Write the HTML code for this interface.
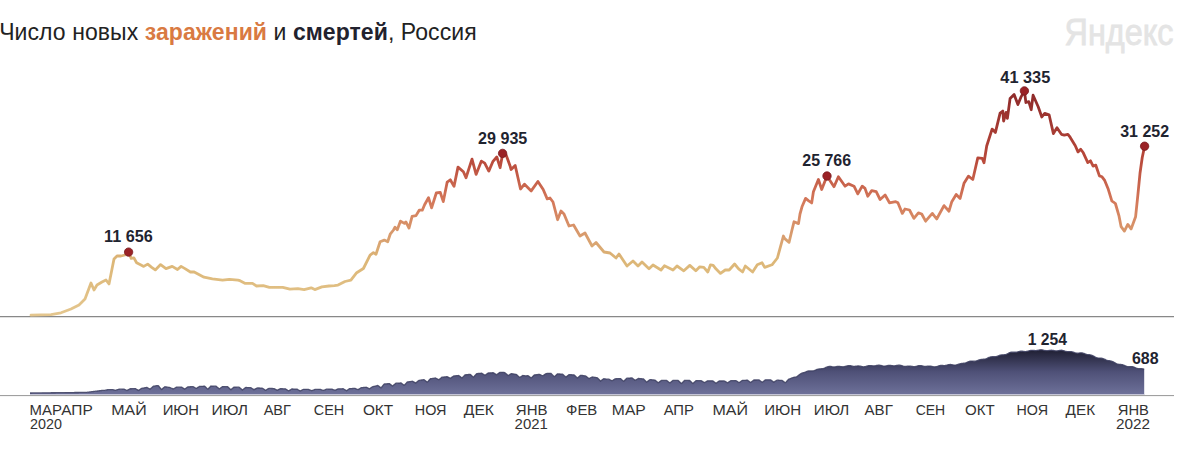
<!DOCTYPE html>
<html><head><meta charset="utf-8"><style>
html,body{margin:0;padding:0;background:#fff;width:1179px;height:449px;overflow:hidden}
svg{display:block;font-family:"Liberation Sans",sans-serif}
</style></head><body>
<svg width="1179" height="449" viewBox="0 0 1179 449">
<defs>
<linearGradient id="ig" gradientUnits="userSpaceOnUse" x1="0" y1="92" x2="0" y2="315">
<stop offset="0" stop-color="#8e2a2a"/>
<stop offset="0.3" stop-color="#b8483a"/>
<stop offset="0.49" stop-color="#d4785a"/>
<stop offset="0.66" stop-color="#d9a070"/>
<stop offset="0.75" stop-color="#dcb676"/>
<stop offset="1" stop-color="#e4c68e"/>
</linearGradient>
<linearGradient id="dg" gradientUnits="userSpaceOnUse" x1="0" y1="350" x2="0" y2="394">
<stop offset="0" stop-color="#1f1f33"/>
<stop offset="0.5" stop-color="#4f5178"/>
<stop offset="1" stop-color="#6d7099"/>
</linearGradient>
</defs>
<text x="-0.8" y="40" font-size="23" fill="#222222" letter-spacing="0.07">Число новых <tspan font-weight="bold" fill="#d97a42">заражений</tspan> и <tspan font-weight="bold" fill="#22222e">смертей</tspan>, Россия</text>
<text x="1064.5" y="44.6" font-size="37" fill="#e4e4e4" stroke="#e4e4e4" stroke-width="0.8" textLength="109" lengthAdjust="spacingAndGlyphs">Яндекс</text>
<line x1="0" y1="316.6" x2="1174" y2="316.6" stroke="#888888" stroke-width="1.3"/>
<path d="M30,395 L30,393.00 L30.5,392.99 L31,392.99 L31.5,392.98 L32,392.98 L32.5,392.97 L33,392.97 L33.5,392.96 L34,392.96 L34.5,392.95 L35,392.95 L35.5,392.94 L36,392.94 L36.5,392.93 L37,392.93 L37.5,392.92 L38,392.91 L38.5,392.91 L39,392.90 L39.5,392.90 L40,392.89 L40.5,392.89 L41,392.88 L41.5,392.88 L42,392.87 L42.5,392.87 L43,392.86 L43.5,392.86 L44,392.85 L44.5,392.84 L45,392.84 L45.5,392.83 L46,392.83 L46.5,392.82 L47,392.82 L47.5,392.81 L48,392.81 L48.5,392.80 L49,392.80 L49.5,392.79 L50,392.79 L50.5,392.78 L51,392.77 L51.5,392.77 L52,392.76 L52.5,392.76 L53,392.75 L53.5,392.75 L54,392.74 L54.5,392.74 L55,392.73 L55.5,392.73 L56,392.72 L56.5,392.72 L57,392.71 L57.5,392.71 L58,392.70 L58.5,392.69 L59,392.69 L59.5,392.68 L60,392.68 L60.5,392.67 L61,392.67 L61.5,392.66 L62,392.66 L62.5,392.65 L63,392.65 L63.5,392.64 L64,392.64 L64.5,392.63 L65,392.62 L65.5,392.62 L66,392.61 L66.5,392.61 L67,392.60 L67.5,392.60 L68,392.59 L68.5,392.59 L69,392.58 L69.5,392.58 L70,392.57 L70.5,392.57 L71,392.56 L71.5,392.56 L72,392.55 L72.5,392.54 L73,392.54 L73.5,392.53 L74,392.53 L74.5,392.52 L75,392.52 L75.5,392.51 L76,392.51 L76.5,392.50 L77,392.50 L77.5,392.49 L78,392.49 L78.5,392.48 L79,392.47 L79.5,392.47 L80,392.46 L80.5,392.46 L81,392.45 L81.5,392.45 L82,392.44 L82.5,392.44 L83,392.43 L83.5,392.43 L84,392.42 L84.5,392.42 L85,392.41 L85.5,392.41 L86,392.40 L86.5,392.34 L87,392.28 L87.5,392.22 L88,392.15 L88.5,392.09 L89,392.03 L89.5,391.97 L90,391.91 L90.5,391.85 L91,391.79 L91.5,391.72 L92,391.66 L92.5,391.60 L93,391.54 L93.5,391.48 L94,391.42 L94.5,391.36 L95,391.30 L95.5,391.23 L96,391.17 L96.5,391.11 L97,391.05 L97.5,390.99 L98,390.93 L98.5,390.87 L99,390.80 L99.5,390.74 L100,390.68 L100.5,390.62 L101,390.56 L101.5,390.52 L102,390.47 L102.5,390.44 L103,390.42 L103.5,390.40 L104,390.37 L104.5,390.30 L105,390.23 L105.5,390.14 L106,390.05 L106.5,389.94 L107,389.83 L107.5,389.76 L108,389.70 L108.5,389.68 L109,389.66 L109.5,389.64 L110,389.62 L110.5,389.60 L111,389.58 L111.5,389.56 L112,389.54 L112.5,389.58 L113,389.68 L113.5,389.79 L114,389.91 L114.5,390.04 L115,390.18 L115.5,390.28 L116,390.14 L116.5,389.99 L117,389.84 L117.5,389.67 L118,389.49 L118.5,389.30 L119,389.25 L119.5,389.23 L120,389.21 L120.5,389.19 L121,389.16 L121.5,389.14 L122,389.12 L122.5,389.10 L123,389.08 L123.5,389.06 L124,389.15 L124.5,389.34 L125,389.55 L125.5,389.76 L126,389.99 L126.5,390.23 L127,390.43 L127.5,390.20 L128,389.96 L128.5,389.70 L129,389.44 L129.5,389.16 L130,388.88 L130.5,388.77 L131,388.75 L131.5,388.73 L132,388.71 L132.5,388.69 L133,388.67 L133.5,388.65 L134,388.63 L134.5,388.61 L135,388.59 L135.5,388.69 L136,388.98 L136.5,389.28 L137,389.57 L137.5,389.87 L138,390.17 L138.5,390.47 L139,390.14 L139.5,389.81 L140,389.47 L140.5,389.13 L141,388.79 L141.5,388.45 L142,388.30 L142.5,388.21 L143,388.12 L143.5,388.03 L144,387.94 L144.5,387.85 L145,387.76 L145.5,387.67 L146,387.58 L146.5,387.49 L147,387.50 L147.5,387.74 L148,388.00 L148.5,388.26 L149,388.53 L149.5,388.81 L150,389.10 L150.5,388.75 L151,388.32 L151.5,387.88 L152,387.43 L152.5,386.98 L153,386.51 L153.5,386.23 L154,386.14 L154.5,386.05 L155,385.96 L155.5,385.87 L156,385.78 L156.5,385.69 L157,385.60 L157.5,385.67 L158,385.75 L158.5,385.92 L159,386.52 L159.5,387.12 L160,387.72 L160.5,388.32 L161,388.90 L161.5,389.46 L162,389.20 L162.5,388.74 L163,388.28 L163.5,387.84 L164,387.41 L164.5,386.99 L165,386.77 L165.5,386.84 L166,386.92 L166.5,386.99 L167,387.06 L167.5,387.13 L168,387.21 L168.5,387.28 L169,387.35 L169.5,387.43 L170,387.52 L170.5,387.75 L171,387.99 L171.5,388.22 L172,388.45 L172.5,388.69 L173,388.93 L173.5,388.81 L174,388.54 L174.5,388.27 L175,388.00 L175.5,387.73 L176,387.46 L176.5,387.26 L177,387.24 L177.5,387.22 L178,387.21 L178.5,387.19 L179,387.17 L179.5,387.15 L180,387.13 L180.5,387.11 L181,387.09 L181.5,387.08 L182,387.39 L182.5,387.70 L183,388.02 L183.5,388.34 L184,388.65 L184.5,388.98 L185,388.90 L185.5,388.55 L186,388.19 L186.5,387.84 L187,387.48 L187.5,387.13 L188,386.84 L188.5,386.82 L189,386.80 L189.5,386.78 L190,386.76 L190.5,386.74 L191,386.73 L191.5,386.71 L192,386.69 L192.5,386.67 L193,386.65 L193.5,386.90 L194,387.18 L194.5,387.46 L195,387.74 L195.5,388.03 L196,388.31 L196.5,388.30 L197,387.98 L197.5,387.66 L198,387.35 L198.5,387.03 L199,386.71 L199.5,386.41 L200,386.39 L200.5,386.38 L201,386.36 L201.5,386.34 L202,386.32 L202.5,386.30 L203,386.28 L203.5,386.27 L204,386.25 L204.5,386.23 L205,386.59 L205.5,387.05 L206,387.51 L206.5,387.98 L207,388.44 L207.5,388.91 L208,388.99 L208.5,388.49 L209,387.99 L209.5,387.49 L210,386.99 L210.5,386.49 L211,386.01 L211.5,386.04 L212,386.06 L212.5,386.08 L213,386.10 L213.5,386.12 L214,386.15 L214.5,386.17 L215,386.19 L215.5,386.21 L216,386.23 L216.5,386.55 L217,386.98 L217.5,387.41 L218,387.84 L218.5,388.26 L219,388.68 L219.5,388.86 L220,388.47 L220.5,388.09 L221,387.70 L221.5,387.32 L222,386.94 L222.5,386.56 L223,386.55 L223.5,386.57 L224,386.59 L224.5,386.61 L225,386.63 L225.5,386.66 L226,386.68 L226.5,386.70 L227,386.72 L227.5,386.74 L228,387.04 L228.5,387.51 L229,387.98 L229.5,388.44 L230,388.91 L230.5,389.37 L231,389.65 L231.5,389.22 L232,388.79 L232.5,388.36 L233,387.94 L233.5,387.52 L234,387.10 L234.5,387.04 L235,387.06 L235.5,387.08 L236,387.10 L236.5,387.12 L237,387.14 L237.5,387.15 L238,387.17 L238.5,387.19 L239,387.21 L239.5,387.45 L240,387.89 L240.5,388.33 L241,388.77 L241.5,389.21 L242,389.65 L242.5,389.99 L243,389.59 L243.5,389.18 L244,388.78 L244.5,388.38 L245,387.99 L245.5,387.59 L246,387.49 L246.5,387.51 L247,387.53 L247.5,387.55 L248,387.57 L248.5,387.59 L249,387.61 L249.5,387.63 L250,387.65 L250.5,387.66 L251,387.80 L251.5,388.12 L252,388.44 L252.5,388.76 L253,389.07 L253.5,389.38 L254,389.69 L254.5,389.41 L255,389.13 L255.5,388.86 L256,388.58 L256.5,388.31 L257,388.04 L257.5,387.94 L258,387.96 L258.5,387.98 L259,388.00 L259.5,388.02 L260,388.04 L260.5,388.06 L261,388.08 L261.5,388.10 L262,388.12 L262.5,388.24 L263,388.59 L263.5,388.94 L264,389.28 L264.5,389.63 L265,389.97 L265.5,390.31 L266,390.06 L266.5,389.75 L267,389.44 L267.5,389.14 L268,388.83 L268.5,388.53 L269,388.39 L269.5,388.41 L270,388.43 L270.5,388.45 L271,388.47 L271.5,388.49 L272,388.50 L272.5,388.52 L273,388.53 L273.5,388.54 L274,388.60 L274.5,388.87 L275,389.13 L275.5,389.40 L276,389.66 L276.5,389.92 L277,390.18 L277.5,390.04 L278,389.80 L278.5,389.56 L279,389.32 L279.5,389.09 L280,388.85 L280.5,388.71 L281,388.73 L281.5,388.74 L282,388.75 L282.5,388.76 L283,388.78 L283.5,388.79 L284,388.80 L284.5,388.81 L285,388.82 L285.5,388.87 L286,389.20 L286.5,389.53 L287,389.85 L287.5,390.18 L288,390.50 L288.5,390.83 L289,390.71 L289.5,390.40 L290,390.10 L290.5,389.80 L291,389.50 L291.5,389.20 L292,389.00 L292.5,389.01 L293,389.02 L293.5,389.03 L294,389.05 L294.5,389.06 L295,389.07 L295.5,389.08 L296,389.09 L296.5,389.11 L297,389.12 L297.5,389.42 L298,389.71 L298.5,390.01 L299,390.30 L299.5,390.60 L300,390.89 L300.5,390.84 L301,390.57 L301.5,390.29 L302,390.02 L302.5,389.76 L303,389.49 L303.5,389.28 L304,389.29 L304.5,389.30 L305,389.32 L305.5,389.33 L306,389.34 L306.5,389.35 L307,389.36 L307.5,389.38 L308,389.39 L308.5,389.40 L309,389.58 L309.5,389.78 L310,389.98 L310.5,390.18 L311,390.38 L311.5,390.57 L312,390.58 L312.5,390.41 L313,390.21 L313.5,390.01 L314,389.82 L314.5,389.62 L315,389.44 L315.5,389.43 L316,389.41 L316.5,389.40 L317,389.39 L317.5,389.38 L318,389.36 L318.5,389.35 L319,389.34 L319.5,389.33 L320,389.32 L320.5,389.46 L321,389.64 L321.5,389.82 L322,390.01 L322.5,390.19 L323,390.38 L323.5,390.41 L324,390.20 L324.5,389.99 L325,389.79 L325.5,389.58 L326,389.37 L326.5,389.16 L327,389.14 L327.5,389.13 L328,389.12 L328.5,389.11 L329,389.09 L329.5,389.08 L330,389.07 L330.5,389.06 L331,389.05 L331.5,389.03 L332,389.17 L332.5,389.36 L333,389.56 L333.5,389.76 L334,389.96 L334.5,390.16 L335,390.24 L335.5,390.02 L336,389.79 L336.5,389.57 L337,389.35 L337.5,389.12 L338,388.89 L338.5,388.86 L339,388.85 L339.5,388.84 L340,388.82 L340.5,388.81 L341,388.80 L341.5,388.79 L342,388.78 L342.5,388.76 L343,388.75 L343.5,388.93 L344,389.24 L344.5,389.55 L345,389.86 L345.5,390.17 L346,390.49 L346.5,390.67 L347,390.34 L347.5,390.01 L348,389.67 L348.5,389.33 L349,389.00 L349.5,388.66 L350,388.58 L350.5,388.57 L351,388.55 L351.5,388.54 L352,388.53 L352.5,388.52 L353,388.50 L353.5,388.47 L354,388.42 L354.5,388.37 L355,388.45 L355.5,388.65 L356,388.85 L356.5,389.06 L357,389.28 L357.5,389.49 L358,389.66 L358.5,389.37 L359,389.07 L359.5,388.76 L360,388.45 L360.5,388.14 L361,387.82 L361.5,387.69 L362,387.64 L362.5,387.59 L363,387.54 L363.5,387.49 L364,387.44 L364.5,387.39 L365,387.34 L365.5,387.29 L366,387.25 L366.5,387.31 L367,387.55 L367.5,387.79 L368,388.04 L368.5,388.29 L369,388.55 L369.5,388.81 L370,388.47 L370.5,388.13 L371,387.79 L371.5,387.44 L372,387.09 L372.5,386.73 L373,386.56 L373.5,386.51 L374,386.40 L374.5,386.28 L375,386.15 L375.5,386.03 L376,385.91 L376.5,385.78 L377,385.66 L377.5,385.53 L378,385.57 L378.5,385.96 L379,386.35 L379.5,386.74 L380,387.13 L380.5,387.52 L381,387.91 L381.5,387.37 L382,386.74 L382.5,386.10 L383,385.46 L383.5,384.82 L384,384.24 L384.5,383.95 L385,383.92 L385.5,383.89 L386,383.86 L386.5,383.83 L387,383.80 L387.5,383.77 L388,383.74 L388.5,383.71 L389,383.67 L389.5,383.73 L390,384.11 L390.5,384.49 L391,384.87 L391.5,385.25 L392,385.63 L392.5,386.01 L393,385.73 L393.5,385.29 L394,384.85 L394.5,384.41 L395,383.96 L395.5,383.52 L396,383.25 L396.5,383.21 L397,383.18 L397.5,383.15 L398,383.12 L398.5,383.09 L399,383.06 L399.5,383.03 L400,383.00 L400.5,382.93 L401,382.91 L401.5,383.30 L402,383.69 L402.5,384.08 L403,384.47 L403.5,384.86 L404,385.25 L404.5,385.00 L405,384.47 L405.5,383.94 L406,383.40 L406.5,382.87 L407,382.34 L407.5,381.95 L408,381.88 L408.5,381.81 L409,381.74 L409.5,381.67 L410,381.60 L410.5,381.53 L411,381.46 L411.5,381.39 L412,381.32 L412.5,381.25 L413,381.53 L413.5,381.81 L414,382.09 L414.5,382.37 L415,382.65 L415.5,382.93 L416,382.79 L416.5,382.37 L417,381.95 L417.5,381.53 L418,381.11 L418.5,380.69 L419,380.34 L419.5,380.27 L420,380.20 L420.5,380.13 L421,380.06 L421.5,379.99 L422,379.92 L422.5,379.85 L423,379.78 L423.5,379.71 L424,379.64 L424.5,379.99 L425,380.39 L425.5,380.78 L426,381.18 L426.5,381.58 L427,381.97 L427.5,381.90 L428,381.37 L428.5,380.83 L429,380.29 L429.5,379.76 L430,379.22 L430.5,378.73 L431,378.66 L431.5,378.59 L432,378.52 L432.5,378.45 L433,378.38 L433.5,378.31 L434,378.24 L434.5,378.17 L435,378.10 L435.5,378.03 L436,378.24 L436.5,378.51 L437,378.79 L437.5,379.07 L438,379.34 L438.5,379.62 L439,379.62 L439.5,379.20 L440,378.78 L440.5,378.39 L441,377.99 L441.5,377.59 L442,377.19 L442.5,377.14 L443,377.09 L443.5,377.04 L444,376.99 L444.5,376.94 L445,376.89 L445.5,376.84 L446,376.78 L446.5,376.73 L447,376.68 L447.5,376.85 L448,377.11 L448.5,377.37 L449,377.63 L449.5,377.89 L450,378.15 L450.5,378.22 L451,377.86 L451.5,377.50 L452,377.13 L452.5,376.77 L453,376.41 L453.5,376.05 L454,375.96 L454.5,375.91 L455,375.86 L455.5,375.81 L456,375.76 L456.5,375.71 L457,375.66 L457.5,375.61 L458,375.56 L458.5,375.50 L459,375.72 L459.5,376.10 L460,376.49 L460.5,376.87 L461,377.26 L461.5,377.65 L462,377.86 L462.5,377.37 L463,376.88 L463.5,376.39 L464,375.90 L464.5,375.41 L465,374.93 L465.5,374.79 L466,374.74 L466.5,374.68 L467,374.63 L467.5,374.58 L468,374.53 L468.5,374.48 L469,374.43 L469.5,374.38 L470,374.32 L470.5,374.53 L471,374.99 L471.5,375.44 L472,375.90 L472.5,376.36 L473,376.82 L473.5,377.17 L474,376.61 L474.5,376.05 L475,375.49 L475.5,374.93 L476,374.37 L476.5,373.81 L477,373.61 L477.5,373.56 L478,373.50 L478.5,373.45 L479,373.40 L479.5,373.35 L480,373.30 L480.5,373.28 L481,373.26 L481.5,373.23 L482,373.35 L482.5,373.68 L483,374.00 L483.5,374.33 L484,374.65 L484.5,374.98 L485,375.31 L485.5,374.94 L486,374.57 L486.5,374.20 L487,373.83 L487.5,373.46 L488,373.09 L488.5,372.93 L489,372.91 L489.5,372.89 L490,372.86 L490.5,372.84 L491,372.82 L491.5,372.80 L492,372.78 L492.5,372.75 L493,372.73 L493.5,372.81 L494,373.13 L494.5,373.45 L495,373.77 L495.5,374.09 L496,374.41 L496.5,374.73 L497,374.44 L497.5,374.07 L498,373.71 L498.5,373.35 L499,372.98 L499.5,372.62 L500,372.43 L500.5,372.40 L501,372.38 L501.5,372.36 L502,372.34 L502.5,372.32 L503,372.32 L503.5,372.39 L504,372.47 L504.5,372.55 L505,372.71 L505.5,373.17 L506,373.63 L506.5,374.09 L507,374.55 L507.5,375.01 L508,375.47 L508.5,375.32 L509,375.02 L509.5,374.71 L510,374.41 L510.5,374.11 L511,373.80 L511.5,373.65 L512,373.73 L512.5,373.81 L513,373.89 L513.5,373.97 L514,374.04 L514.5,374.12 L515,374.20 L515.5,374.28 L516,374.36 L516.5,374.48 L517,374.95 L517.5,375.43 L518,375.90 L518.5,376.37 L519,376.85 L519.5,377.32 L520,377.24 L520.5,376.93 L521,376.61 L521.5,376.29 L522,375.97 L522.5,375.66 L523,375.46 L523.5,375.54 L524,375.62 L524.5,375.70 L525,375.77 L525.5,375.85 L526,375.88 L526.5,375.82 L527,375.76 L527.5,375.71 L528,375.65 L528.5,376.00 L529,376.35 L529.5,376.71 L530,377.06 L530.5,377.41 L531,377.76 L531.5,377.63 L532,377.16 L532.5,376.69 L533,376.23 L533.5,375.76 L534,375.30 L534.5,374.91 L535,374.86 L535.5,374.80 L536,374.74 L536.5,374.69 L537,374.63 L537.5,374.57 L538,374.51 L538.5,374.46 L539,374.40 L539.5,374.34 L540,374.55 L540.5,374.78 L541,375.02 L541.5,375.25 L542,375.48 L542.5,375.71 L543,375.66 L543.5,375.31 L544,374.96 L544.5,374.62 L545,374.27 L545.5,373.92 L546,373.61 L546.5,373.55 L547,373.49 L547.5,373.44 L548,373.38 L548.5,373.32 L549,373.32 L549.5,373.35 L550,373.38 L550.5,373.41 L551,373.45 L551.5,373.86 L552,374.38 L552.5,374.90 L553,375.41 L553.5,375.93 L554,376.44 L554.5,376.57 L555,376.12 L555.5,375.67 L556,375.22 L556.5,374.76 L557,374.31 L557.5,373.86 L558,373.89 L558.5,373.92 L559,373.95 L559.5,373.99 L560,374.02 L560.5,374.05 L561,374.08 L561.5,374.11 L562,374.14 L562.5,374.18 L563,374.51 L563.5,374.97 L564,375.43 L564.5,375.89 L565,376.35 L565.5,376.81 L566,377.02 L566.5,376.62 L567,376.22 L567.5,375.82 L568,375.43 L568.5,375.03 L569,374.63 L569.5,374.62 L570,374.65 L570.5,374.68 L571,374.71 L571.5,374.75 L572,374.78 L572.5,374.81 L573,374.84 L573.5,374.87 L574,374.91 L574.5,375.21 L575,375.70 L575.5,376.19 L576,376.67 L576.5,377.16 L577,377.65 L577.5,377.95 L578,377.53 L578.5,377.11 L579,376.68 L579.5,376.26 L580,375.83 L580.5,375.41 L581,375.35 L581.5,375.38 L582,375.43 L582.5,375.50 L583,375.58 L583.5,375.65 L584,375.73 L584.5,375.80 L585,375.88 L585.5,375.95 L586,376.19 L586.5,376.60 L587,377.00 L587.5,377.41 L588,377.81 L588.5,378.22 L589,378.55 L589.5,378.30 L590,378.04 L590.5,377.79 L591,377.53 L591.5,377.28 L592,377.02 L592.5,377.00 L593,377.08 L593.5,377.15 L594,377.23 L594.5,377.30 L595,377.37 L595.5,377.45 L596,377.52 L596.5,377.60 L597,377.67 L597.5,377.93 L598,378.46 L598.5,378.99 L599,379.52 L599.5,380.04 L600,380.57 L600.5,381.10 L601,380.72 L601.5,380.34 L602,379.96 L602.5,379.59 L603,379.21 L603.5,378.83 L604,378.72 L604.5,378.80 L605,378.87 L605.5,378.95 L606,379.02 L606.5,379.10 L607,379.17 L607.5,379.18 L608,379.16 L608.5,379.13 L609,379.20 L609.5,379.46 L610,379.73 L610.5,380.00 L611,380.27 L611.5,380.54 L612,380.81 L612.5,380.55 L613,380.23 L613.5,379.91 L614,379.59 L614.5,379.27 L615,378.95 L615.5,378.78 L616,378.75 L616.5,378.73 L617,378.70 L617.5,378.67 L618,378.65 L618.5,378.62 L619,378.60 L619.5,378.57 L620,378.55 L620.5,378.61 L621,379.05 L621.5,379.49 L622,379.93 L622.5,380.37 L623,380.81 L623.5,381.25 L624,380.94 L624.5,380.45 L625,379.96 L625.5,379.47 L626,378.98 L626.5,378.49 L627,378.19 L627.5,378.17 L628,378.14 L628.5,378.11 L629,378.09 L629.5,378.06 L630,378.04 L630.5,378.01 L631,377.99 L631.5,377.96 L632,377.97 L632.5,378.29 L633,378.65 L633.5,379.04 L634,379.43 L634.5,379.83 L635,380.22 L635.5,380.13 L636,379.84 L636.5,379.54 L637,379.25 L637.5,378.96 L638,378.66 L638.5,378.47 L639,378.52 L639.5,378.57 L640,378.62 L640.5,378.67 L641,378.72 L641.5,378.77 L642,378.82 L642.5,378.87 L643,378.92 L643.5,378.97 L644,379.47 L644.5,379.97 L645,380.47 L645.5,380.97 L646,381.47 L646.5,381.97 L647,381.92 L647.5,381.52 L648,381.12 L648.5,380.72 L649,380.32 L649.5,379.92 L650,379.61 L650.5,379.66 L651,379.71 L651.5,379.76 L652,379.81 L652.5,379.86 L653,379.91 L653.5,379.96 L654,380.00 L654.5,380.05 L655,380.10 L655.5,380.49 L656,380.91 L656.5,381.33 L657,381.76 L657.5,382.18 L658,382.60 L658.5,382.60 L659,382.23 L659.5,381.86 L660,381.48 L660.5,381.11 L661,380.74 L661.5,380.40 L662,380.40 L662.5,380.40 L663,380.40 L663.5,380.40 L664,380.40 L664.5,380.40 L665,380.40 L665.5,380.40 L666,380.40 L666.5,380.40 L667,380.72 L667.5,381.12 L668,381.52 L668.5,381.92 L669,382.33 L669.5,382.73 L670,382.81 L670.5,382.41 L671,382.01 L671.5,381.60 L672,381.20 L672.5,380.80 L673,380.40 L673.5,380.40 L674,380.40 L674.5,380.40 L675,380.40 L675.5,380.40 L676,380.40 L676.5,380.40 L677,380.40 L677.5,380.40 L678,380.40 L678.5,380.75 L679,381.26 L679.5,381.77 L680,382.28 L680.5,382.78 L681,383.29 L681.5,383.49 L682,382.98 L682.5,382.48 L683,381.97 L683.5,381.46 L684,380.96 L684.5,380.46 L685,380.42 L685.5,380.43 L686,380.44 L686.5,380.45 L687,380.45 L687.5,380.46 L688,380.47 L688.5,380.48 L689,380.49 L689.5,380.49 L690,380.79 L690.5,381.27 L691,381.75 L691.5,382.23 L692,382.72 L692.5,383.20 L693,383.49 L693.5,383.02 L694,382.56 L694.5,382.09 L695,381.62 L695.5,381.16 L696,380.69 L696.5,380.60 L697,380.61 L697.5,380.62 L698,380.63 L698.5,380.63 L699,380.64 L699.5,380.65 L700,380.66 L700.5,380.67 L701,380.67 L701.5,380.83 L702,381.14 L702.5,381.44 L703,381.75 L703.5,382.05 L704,382.36 L704.5,382.60 L705,382.31 L705.5,382.02 L706,381.73 L706.5,381.44 L707,381.15 L707.5,380.87 L708,380.78 L708.5,380.79 L709,380.80 L709.5,380.81 L710,380.82 L710.5,380.82 L711,380.83 L711.5,380.84 L712,380.85 L712.5,380.86 L713,381.01 L713.5,381.39 L714,381.78 L714.5,382.16 L715,382.54 L715.5,382.92 L716,383.30 L716.5,382.94 L717,382.57 L717.5,382.20 L718,381.84 L718.5,381.47 L719,381.11 L719.5,380.97 L720,380.97 L720.5,380.98 L721,380.99 L721.5,381.00 L722,380.99 L722.5,380.98 L723,380.96 L723.5,380.95 L724,380.93 L724.5,381.01 L725,381.32 L725.5,381.63 L726,381.93 L726.5,382.24 L727,382.55 L727.5,382.85 L728,382.58 L728.5,382.24 L729,381.91 L729.5,381.57 L730,381.23 L730.5,380.90 L731,380.72 L731.5,380.70 L732,380.69 L732.5,380.67 L733,380.66 L733.5,380.64 L734,380.63 L734.5,380.61 L735,380.60 L735.5,380.58 L736,380.64 L736.5,380.96 L737,381.29 L737.5,381.61 L738,381.94 L738.5,382.26 L739,382.59 L739.5,382.37 L740,382.01 L740.5,381.66 L741,381.30 L741.5,380.95 L742,380.59 L742.5,380.37 L743,380.36 L743.5,380.34 L744,380.33 L744.5,380.31 L745,380.30 L745.5,380.28 L746,380.27 L746.5,380.25 L747,380.24 L747.5,380.26 L748,380.62 L748.5,380.98 L749,381.34 L749.5,381.70 L750,382.06 L750.5,382.42 L751,382.25 L751.5,381.86 L752,381.47 L752.5,381.08 L753,380.69 L753.5,380.30 L754,380.02 L754.5,380.01 L755,380.00 L755.5,379.99 L756,379.98 L756.5,379.98 L757,379.97 L757.5,379.96 L758,379.96 L758.5,379.95 L759,379.95 L759.5,380.31 L760,380.67 L760.5,381.03 L761,381.40 L761.5,381.76 L762,382.12 L762.5,382.04 L763,381.67 L763.5,381.29 L764,380.91 L764.5,380.54 L765,380.16 L765.5,379.86 L766,379.85 L766.5,379.85 L767,379.84 L767.5,379.84 L768,379.83 L768.5,379.82 L769,379.82 L769.5,379.81 L770,379.80 L770.5,379.82 L771,380.15 L771.5,380.52 L772,380.89 L772.5,381.26 L773,381.63 L773.5,381.99 L774,382.02 L774.5,381.70 L775,381.39 L775.5,381.07 L776,380.76 L776.5,380.44 L777,380.16 L777.5,380.18 L778,380.21 L778.5,380.24 L779,380.26 L779.5,380.29 L780,380.32 L780.5,380.34 L781,380.37 L781.5,380.39 L782,380.42 L782.5,380.73 L783,381.11 L783.5,381.49 L784,381.88 L784.5,382.26 L785,382.64 L785.5,382.69 L786,382.14 L786.5,381.58 L787,381.03 L787.5,380.47 L788,379.92 L788.5,379.36 L789,379.16 L789.5,378.96 L790,378.76 L790.5,378.56 L791,378.36 L791.5,378.16 L792,377.96 L792.5,377.76 L793,377.56 L793.5,377.36 L794,377.30 L794.5,377.24 L795,377.17 L795.5,377.08 L796,376.97 L796.5,376.84 L797,376.60 L797.5,376.15 L798,375.72 L798.5,375.31 L799,374.92 L799.5,374.55 L800,374.20 L800.5,373.94 L801,373.69 L801.5,373.44 L802,373.20 L802.5,372.98 L803,372.85 L803.5,372.73 L804,372.60 L804.5,372.48 L805,372.35 L805.5,371.96 L806,371.74 L806.5,371.53 L807,371.34 L807.5,371.17 L808,371.05 L808.5,370.96 L809,370.90 L809.5,370.88 L810,370.88 L810.5,370.90 L811,370.93 L811.5,370.94 L812,370.94 L812.5,370.92 L813,370.86 L813.5,370.77 L814,370.64 L814.5,370.48 L815,370.29 L815.5,370.08 L816,369.85 L816.5,369.66 L817,369.47 L817.5,369.30 L818,369.15 L818.5,369.04 L819,368.95 L819.5,368.88 L820,368.84 L820.5,368.81 L821,368.79 L821.5,368.76 L822,368.72 L822.5,368.65 L823,368.56 L823.5,368.43 L824,368.28 L824.5,368.09 L825,367.88 L825.5,367.66 L826,367.43 L826.5,367.21 L827,367.00 L827.5,366.82 L828,366.68 L828.5,366.57 L829,366.49 L829.5,366.46 L830,366.46 L830.5,366.48 L831,366.52 L831.5,366.60 L832,366.72 L832.5,366.81 L833,366.88 L833.5,366.92 L834,366.93 L834.5,366.90 L835,366.85 L835.5,366.78 L836,366.69 L836.5,366.60 L837,366.51 L837.5,366.44 L838,366.39 L838.5,366.36 L839,366.37 L839.5,366.40 L840,366.45 L840.5,366.52 L841,366.60 L841.5,366.67 L842,366.73 L842.5,366.77 L843,366.79 L843.5,366.76 L844,366.70 L844.5,366.61 L845,366.49 L845.5,366.36 L846,366.22 L846.5,366.07 L847,365.93 L847.5,365.81 L848,365.71 L848.5,365.65 L849,365.62 L849.5,365.63 L850,365.68 L850.5,365.75 L851,365.84 L851.5,365.95 L852,366.06 L852.5,366.15 L853,366.23 L853.5,366.29 L854,366.31 L854.5,366.31 L855,366.28 L855.5,366.23 L856,366.17 L856.5,366.10 L857,366.03 L857.5,365.98 L858,365.95 L858.5,365.95 L859,365.98 L859.5,366.04 L860,366.13 L860.5,366.24 L861,366.36 L861.5,366.49 L862,366.61 L862.5,366.69 L863,366.75 L863.5,366.78 L864,366.77 L864.5,366.72 L865,366.64 L865.5,366.52 L866,366.38 L866.5,366.23 L867,366.08 L867.5,365.93 L868,365.80 L868.5,365.69 L869,365.62 L869.5,365.58 L870,365.57 L870.5,365.59 L871,365.64 L871.5,365.70 L872,365.76 L872.5,365.81 L873,365.86 L873.5,365.88 L874,365.87 L874.5,365.84 L875,365.78 L875.5,365.70 L876,365.60 L876.5,365.49 L877,365.39 L877.5,365.30 L878,365.23 L878.5,365.19 L879,365.18 L879.5,365.21 L880,365.28 L880.5,365.37 L881,365.49 L881.5,365.61 L882,365.75 L882.5,365.87 L883,365.97 L883.5,366.05 L884,366.09 L884.5,366.09 L885,366.06 L885.5,365.99 L886,365.89 L886.5,365.77 L887,365.65 L887.5,365.54 L888,365.45 L888.5,365.38 L889,365.34 L889.5,365.33 L890,365.34 L890.5,365.39 L891,365.45 L891.5,365.53 L892,365.61 L892.5,365.69 L893,365.76 L893.5,365.80 L894,365.82 L894.5,365.80 L895,365.76 L895.5,365.69 L896,365.60 L896.5,365.50 L897,365.39 L897.5,365.29 L898,365.21 L898.5,365.16 L899,365.14 L899.5,365.16 L900,365.22 L900.5,365.31 L901,365.43 L901.5,365.58 L902,365.73 L902.5,365.89 L903,366.04 L903.5,366.17 L904,366.27 L904.5,366.34 L905,366.38 L905.5,366.38 L906,366.36 L906.5,366.31 L907,366.25 L907.5,366.18 L908,366.12 L908.5,366.07 L909,366.05 L909.5,366.05 L910,366.08 L910.5,366.13 L911,366.21 L911.5,366.30 L912,366.41 L912.5,366.50 L913,366.58 L913.5,366.62 L914,366.64 L914.5,366.63 L915,366.58 L915.5,366.50 L916,366.39 L916.5,366.26 L917,366.11 L917.5,365.97 L918,365.84 L918.5,365.72 L919,365.64 L919.5,365.59 L920,365.58 L920.5,365.60 L921,365.66 L921.5,365.75 L922,365.86 L922.5,365.98 L923,366.10 L923.5,366.20 L924,366.29 L924.5,366.35 L925,366.38 L925.5,366.38 L926,366.36 L926.5,366.31 L927,366.25 L927.5,366.18 L928,366.12 L928.5,366.07 L929,366.04 L929.5,366.04 L930,366.06 L930.5,366.12 L931,366.20 L931.5,366.30 L932,366.42 L932.5,366.53 L933,366.64 L933.5,366.73 L934,366.79 L934.5,366.81 L935,366.80 L935.5,366.76 L936,366.67 L936.5,366.56 L937,366.43 L937.5,366.28 L938,366.14 L938.5,365.96 L939,365.79 L939.5,365.65 L940,365.55 L940.5,365.47 L941,365.44 L941.5,365.43 L942,365.44 L942.5,365.47 L943,365.50 L943.5,365.53 L944,365.54 L944.5,365.53 L945,365.50 L945.5,365.43 L946,365.34 L946.5,365.23 L947,365.10 L947.5,364.97 L948,364.84 L948.5,364.72 L949,364.62 L949.5,364.55 L950,364.52 L950.5,364.52 L951,364.56 L951.5,364.63 L952,364.72 L952.5,364.81 L953,364.91 L953.5,364.99 L954,365.05 L954.5,365.09 L955,365.08 L955.5,365.04 L956,364.96 L956.5,364.85 L957,364.71 L957.5,364.55 L958,364.38 L958.5,364.21 L959,364.05 L959.5,363.92 L960,363.81 L960.5,363.67 L961,363.55 L961.5,363.47 L962,363.41 L962.5,363.36 L963,363.32 L963.5,363.27 L964,363.21 L964.5,363.13 L965,363.03 L965.5,362.89 L966,362.73 L966.5,362.54 L967,362.33 L967.5,362.11 L968,361.89 L968.5,361.68 L969,361.49 L969.5,361.33 L970,361.20 L970.5,361.11 L971,361.05 L971.5,361.03 L972,361.04 L972.5,361.06 L973,361.10 L973.5,361.14 L974,361.16 L974.5,361.16 L975,361.13 L975.5,361.07 L976,360.98 L976.5,360.86 L977,360.71 L977.5,360.53 L978,360.34 L978.5,360.15 L979,359.96 L979.5,359.79 L980,359.64 L980.5,359.52 L981,359.42 L981.5,359.35 L982,359.31 L982.5,359.28 L983,359.25 L983.5,359.23 L984,359.19 L984.5,359.12 L985,359.04 L985.5,358.91 L986,358.76 L986.5,358.58 L987,358.37 L987.5,358.14 L988,357.90 L988.5,357.66 L989,357.44 L989.5,357.24 L990,357.07 L990.5,356.94 L991,356.84 L991.5,356.78 L992,356.76 L992.5,356.76 L993,356.76 L993.5,356.76 L994,356.77 L994.5,356.76 L995,356.73 L995.5,356.67 L996,356.58 L996.5,356.46 L997,356.31 L997.5,356.13 L998,355.95 L998.5,355.75 L999,355.56 L999.5,355.39 L1000,355.23 L1000.5,355.10 L1001,355.00 L1001.5,354.92 L1002,354.87 L1002.5,354.84 L1003,354.82 L1003.5,354.80 L1004,354.77 L1004.5,354.72 L1005,354.64 L1005.5,354.53 L1006,354.38 L1006.5,354.20 L1007,353.98 L1007.5,353.73 L1008,353.47 L1008.5,353.20 L1009,352.93 L1009.5,352.68 L1010,352.51 L1010.5,352.37 L1011,352.26 L1011.5,352.19 L1012,352.15 L1012.5,352.15 L1013,352.16 L1013.5,352.19 L1014,352.23 L1014.5,352.25 L1015,352.27 L1015.5,352.26 L1016,352.22 L1016.5,352.15 L1017,352.06 L1017.5,351.94 L1018,351.81 L1018.5,351.68 L1019,351.54 L1019.5,351.42 L1020,351.32 L1020.5,351.25 L1021,351.20 L1021.5,351.19 L1022,351.21 L1022.5,351.26 L1023,351.32 L1023.5,351.39 L1024,351.45 L1024.5,351.50 L1025,351.53 L1025.5,351.53 L1026,351.49 L1026.5,351.43 L1027,351.36 L1027.5,351.26 L1028,351.13 L1028.5,350.99 L1029,350.83 L1029.5,350.69 L1030,350.55 L1030.5,350.44 L1031,350.36 L1031.5,350.31 L1032,350.29 L1032.5,350.30 L1033,350.33 L1033.5,350.38 L1034,350.44 L1034.5,350.49 L1035,350.53 L1035.5,350.55 L1036,350.54 L1036.5,350.51 L1037,350.45 L1037.5,350.36 L1038,350.26 L1038.5,350.14 L1039,350.03 L1039.5,349.93 L1040,349.84 L1040.5,349.79 L1041,349.76 L1041.5,349.78 L1042,349.83 L1042.5,349.91 L1043,350.02 L1043.5,350.14 L1044,350.27 L1044.5,350.40 L1045,350.51 L1045.5,350.60 L1046,350.65 L1046.5,350.67 L1047,350.68 L1047.5,350.67 L1048,350.64 L1048.5,350.57 L1049,350.50 L1049.5,350.42 L1050,350.35 L1050.5,350.30 L1051,350.27 L1051.5,350.26 L1052,350.29 L1052.5,350.34 L1053,350.41 L1053.5,350.50 L1054,350.60 L1054.5,350.69 L1055,350.77 L1055.5,350.84 L1056,350.87 L1056.5,350.88 L1057,350.85 L1057.5,350.79 L1058,350.71 L1058.5,350.62 L1059,350.52 L1059.5,350.42 L1060,350.34 L1060.5,350.28 L1061,350.25 L1061.5,350.26 L1062,350.31 L1062.5,350.40 L1063,350.52 L1063.5,350.66 L1064,350.82 L1064.5,350.99 L1065,351.15 L1065.5,351.29 L1066,351.42 L1066.5,351.51 L1067,351.57 L1067.5,351.59 L1068,351.59 L1068.5,351.56 L1069,351.55 L1069.5,351.56 L1070,351.57 L1070.5,351.59 L1071,351.64 L1071.5,351.71 L1072,351.80 L1072.5,351.93 L1073,352.07 L1073.5,352.24 L1074,352.41 L1074.5,352.59 L1075,352.75 L1075.5,352.89 L1076,353.01 L1076.5,353.09 L1077,353.14 L1077.5,353.15 L1078,353.13 L1078.5,353.09 L1079,353.03 L1079.5,352.97 L1080,352.91 L1080.5,352.87 L1081,352.85 L1081.5,352.87 L1082,352.92 L1082.5,353.01 L1083,353.14 L1083.5,353.30 L1084,353.47 L1084.5,353.67 L1085,353.86 L1085.5,354.05 L1086,354.22 L1086.5,354.36 L1087,354.48 L1087.5,354.57 L1088,354.63 L1088.5,354.67 L1089,354.69 L1089.5,354.76 L1090,354.85 L1090.5,354.95 L1091,355.07 L1091.5,355.22 L1092,355.39 L1092.5,355.60 L1093,355.84 L1093.5,356.09 L1094,356.37 L1094.5,356.64 L1095,356.92 L1095.5,357.17 L1096,357.40 L1096.5,357.60 L1097,357.77 L1097.5,357.89 L1098,357.98 L1098.5,358.03 L1099,358.06 L1099.5,358.08 L1100,358.09 L1100.5,358.11 L1101,358.14 L1101.5,358.20 L1102,358.29 L1102.5,358.42 L1103,358.58 L1103.5,358.76 L1104,358.98 L1104.5,359.20 L1105,359.44 L1105.5,359.67 L1106,359.89 L1106.5,360.09 L1107,360.26 L1107.5,360.40 L1108,360.52 L1108.5,360.62 L1109,360.69 L1109.5,360.76 L1110,360.83 L1110.5,360.91 L1111,361.01 L1111.5,361.13 L1112,361.29 L1112.5,361.48 L1113,361.71 L1113.5,361.96 L1114,362.24 L1114.5,362.53 L1115,362.83 L1115.5,363.12 L1116,363.39 L1116.5,363.64 L1117,363.85 L1117.5,364.02 L1118,364.16 L1118.5,364.26 L1119,364.33 L1119.5,364.37 L1120,364.41 L1120.5,364.44 L1121,364.49 L1121.5,364.55 L1122,364.63 L1122.5,364.75 L1123,364.89 L1123.5,365.06 L1124,365.25 L1124.5,365.46 L1125,365.68 L1125.5,365.90 L1126,366.10 L1126.5,366.29 L1127,366.45 L1127.5,366.58 L1128,366.68 L1128.5,366.69 L1129,366.67 L1129.5,366.63 L1130,366.59 L1130.5,366.56 L1131,366.54 L1131.5,366.55 L1132,366.59 L1132.5,366.67 L1133,366.78 L1133.5,366.93 L1134,367.12 L1134.5,367.32 L1135,367.54 L1135.5,367.76 L1136,367.98 L1136.5,368.18 L1137,368.35 L1137.5,368.48 L1138,368.59 L1138.5,368.66 L1139,368.69 L1139.5,368.71 L1140,368.71 L1140.5,368.70 L1141,368.70 L1141.5,368.70 L1142,368.73 L1142.5,368.79 L1143,368.87 L1143.5,368.98 L1144.2,369.10 L1144.2,395 Z" fill="url(#dg)" stroke="none"/>
<path d="M30,393.00 L30.5,392.99 L31,392.99 L31.5,392.98 L32,392.98 L32.5,392.97 L33,392.97 L33.5,392.96 L34,392.96 L34.5,392.95 L35,392.95 L35.5,392.94 L36,392.94 L36.5,392.93 L37,392.93 L37.5,392.92 L38,392.91 L38.5,392.91 L39,392.90 L39.5,392.90 L40,392.89 L40.5,392.89 L41,392.88 L41.5,392.88 L42,392.87 L42.5,392.87 L43,392.86 L43.5,392.86 L44,392.85 L44.5,392.84 L45,392.84 L45.5,392.83 L46,392.83 L46.5,392.82 L47,392.82 L47.5,392.81 L48,392.81 L48.5,392.80 L49,392.80 L49.5,392.79 L50,392.79 L50.5,392.78 L51,392.77 L51.5,392.77 L52,392.76 L52.5,392.76 L53,392.75 L53.5,392.75 L54,392.74 L54.5,392.74 L55,392.73 L55.5,392.73 L56,392.72 L56.5,392.72 L57,392.71 L57.5,392.71 L58,392.70 L58.5,392.69 L59,392.69 L59.5,392.68 L60,392.68 L60.5,392.67 L61,392.67 L61.5,392.66 L62,392.66 L62.5,392.65 L63,392.65 L63.5,392.64 L64,392.64 L64.5,392.63 L65,392.62 L65.5,392.62 L66,392.61 L66.5,392.61 L67,392.60 L67.5,392.60 L68,392.59 L68.5,392.59 L69,392.58 L69.5,392.58 L70,392.57 L70.5,392.57 L71,392.56 L71.5,392.56 L72,392.55 L72.5,392.54 L73,392.54 L73.5,392.53 L74,392.53 L74.5,392.52 L75,392.52 L75.5,392.51 L76,392.51 L76.5,392.50 L77,392.50 L77.5,392.49 L78,392.49 L78.5,392.48 L79,392.47 L79.5,392.47 L80,392.46 L80.5,392.46 L81,392.45 L81.5,392.45 L82,392.44 L82.5,392.44 L83,392.43 L83.5,392.43 L84,392.42 L84.5,392.42 L85,392.41 L85.5,392.41 L86,392.40 L86.5,392.34 L87,392.28 L87.5,392.22 L88,392.15 L88.5,392.09 L89,392.03 L89.5,391.97 L90,391.91 L90.5,391.85 L91,391.79 L91.5,391.72 L92,391.66 L92.5,391.60 L93,391.54 L93.5,391.48 L94,391.42 L94.5,391.36 L95,391.30 L95.5,391.23 L96,391.17 L96.5,391.11 L97,391.05 L97.5,390.99 L98,390.93 L98.5,390.87 L99,390.80 L99.5,390.74 L100,390.68 L100.5,390.62 L101,390.56 L101.5,390.52 L102,390.47 L102.5,390.44 L103,390.42 L103.5,390.40 L104,390.37 L104.5,390.30 L105,390.23 L105.5,390.14 L106,390.05 L106.5,389.94 L107,389.83 L107.5,389.76 L108,389.70 L108.5,389.68 L109,389.66 L109.5,389.64 L110,389.62 L110.5,389.60 L111,389.58 L111.5,389.56 L112,389.54 L112.5,389.58 L113,389.68 L113.5,389.79 L114,389.91 L114.5,390.04 L115,390.18 L115.5,390.28 L116,390.14 L116.5,389.99 L117,389.84 L117.5,389.67 L118,389.49 L118.5,389.30 L119,389.25 L119.5,389.23 L120,389.21 L120.5,389.19 L121,389.16 L121.5,389.14 L122,389.12 L122.5,389.10 L123,389.08 L123.5,389.06 L124,389.15 L124.5,389.34 L125,389.55 L125.5,389.76 L126,389.99 L126.5,390.23 L127,390.43 L127.5,390.20 L128,389.96 L128.5,389.70 L129,389.44 L129.5,389.16 L130,388.88 L130.5,388.77 L131,388.75 L131.5,388.73 L132,388.71 L132.5,388.69 L133,388.67 L133.5,388.65 L134,388.63 L134.5,388.61 L135,388.59 L135.5,388.69 L136,388.98 L136.5,389.28 L137,389.57 L137.5,389.87 L138,390.17 L138.5,390.47 L139,390.14 L139.5,389.81 L140,389.47 L140.5,389.13 L141,388.79 L141.5,388.45 L142,388.30 L142.5,388.21 L143,388.12 L143.5,388.03 L144,387.94 L144.5,387.85 L145,387.76 L145.5,387.67 L146,387.58 L146.5,387.49 L147,387.50 L147.5,387.74 L148,388.00 L148.5,388.26 L149,388.53 L149.5,388.81 L150,389.10 L150.5,388.75 L151,388.32 L151.5,387.88 L152,387.43 L152.5,386.98 L153,386.51 L153.5,386.23 L154,386.14 L154.5,386.05 L155,385.96 L155.5,385.87 L156,385.78 L156.5,385.69 L157,385.60 L157.5,385.67 L158,385.75 L158.5,385.92 L159,386.52 L159.5,387.12 L160,387.72 L160.5,388.32 L161,388.90 L161.5,389.46 L162,389.20 L162.5,388.74 L163,388.28 L163.5,387.84 L164,387.41 L164.5,386.99 L165,386.77 L165.5,386.84 L166,386.92 L166.5,386.99 L167,387.06 L167.5,387.13 L168,387.21 L168.5,387.28 L169,387.35 L169.5,387.43 L170,387.52 L170.5,387.75 L171,387.99 L171.5,388.22 L172,388.45 L172.5,388.69 L173,388.93 L173.5,388.81 L174,388.54 L174.5,388.27 L175,388.00 L175.5,387.73 L176,387.46 L176.5,387.26 L177,387.24 L177.5,387.22 L178,387.21 L178.5,387.19 L179,387.17 L179.5,387.15 L180,387.13 L180.5,387.11 L181,387.09 L181.5,387.08 L182,387.39 L182.5,387.70 L183,388.02 L183.5,388.34 L184,388.65 L184.5,388.98 L185,388.90 L185.5,388.55 L186,388.19 L186.5,387.84 L187,387.48 L187.5,387.13 L188,386.84 L188.5,386.82 L189,386.80 L189.5,386.78 L190,386.76 L190.5,386.74 L191,386.73 L191.5,386.71 L192,386.69 L192.5,386.67 L193,386.65 L193.5,386.90 L194,387.18 L194.5,387.46 L195,387.74 L195.5,388.03 L196,388.31 L196.5,388.30 L197,387.98 L197.5,387.66 L198,387.35 L198.5,387.03 L199,386.71 L199.5,386.41 L200,386.39 L200.5,386.38 L201,386.36 L201.5,386.34 L202,386.32 L202.5,386.30 L203,386.28 L203.5,386.27 L204,386.25 L204.5,386.23 L205,386.59 L205.5,387.05 L206,387.51 L206.5,387.98 L207,388.44 L207.5,388.91 L208,388.99 L208.5,388.49 L209,387.99 L209.5,387.49 L210,386.99 L210.5,386.49 L211,386.01 L211.5,386.04 L212,386.06 L212.5,386.08 L213,386.10 L213.5,386.12 L214,386.15 L214.5,386.17 L215,386.19 L215.5,386.21 L216,386.23 L216.5,386.55 L217,386.98 L217.5,387.41 L218,387.84 L218.5,388.26 L219,388.68 L219.5,388.86 L220,388.47 L220.5,388.09 L221,387.70 L221.5,387.32 L222,386.94 L222.5,386.56 L223,386.55 L223.5,386.57 L224,386.59 L224.5,386.61 L225,386.63 L225.5,386.66 L226,386.68 L226.5,386.70 L227,386.72 L227.5,386.74 L228,387.04 L228.5,387.51 L229,387.98 L229.5,388.44 L230,388.91 L230.5,389.37 L231,389.65 L231.5,389.22 L232,388.79 L232.5,388.36 L233,387.94 L233.5,387.52 L234,387.10 L234.5,387.04 L235,387.06 L235.5,387.08 L236,387.10 L236.5,387.12 L237,387.14 L237.5,387.15 L238,387.17 L238.5,387.19 L239,387.21 L239.5,387.45 L240,387.89 L240.5,388.33 L241,388.77 L241.5,389.21 L242,389.65 L242.5,389.99 L243,389.59 L243.5,389.18 L244,388.78 L244.5,388.38 L245,387.99 L245.5,387.59 L246,387.49 L246.5,387.51 L247,387.53 L247.5,387.55 L248,387.57 L248.5,387.59 L249,387.61 L249.5,387.63 L250,387.65 L250.5,387.66 L251,387.80 L251.5,388.12 L252,388.44 L252.5,388.76 L253,389.07 L253.5,389.38 L254,389.69 L254.5,389.41 L255,389.13 L255.5,388.86 L256,388.58 L256.5,388.31 L257,388.04 L257.5,387.94 L258,387.96 L258.5,387.98 L259,388.00 L259.5,388.02 L260,388.04 L260.5,388.06 L261,388.08 L261.5,388.10 L262,388.12 L262.5,388.24 L263,388.59 L263.5,388.94 L264,389.28 L264.5,389.63 L265,389.97 L265.5,390.31 L266,390.06 L266.5,389.75 L267,389.44 L267.5,389.14 L268,388.83 L268.5,388.53 L269,388.39 L269.5,388.41 L270,388.43 L270.5,388.45 L271,388.47 L271.5,388.49 L272,388.50 L272.5,388.52 L273,388.53 L273.5,388.54 L274,388.60 L274.5,388.87 L275,389.13 L275.5,389.40 L276,389.66 L276.5,389.92 L277,390.18 L277.5,390.04 L278,389.80 L278.5,389.56 L279,389.32 L279.5,389.09 L280,388.85 L280.5,388.71 L281,388.73 L281.5,388.74 L282,388.75 L282.5,388.76 L283,388.78 L283.5,388.79 L284,388.80 L284.5,388.81 L285,388.82 L285.5,388.87 L286,389.20 L286.5,389.53 L287,389.85 L287.5,390.18 L288,390.50 L288.5,390.83 L289,390.71 L289.5,390.40 L290,390.10 L290.5,389.80 L291,389.50 L291.5,389.20 L292,389.00 L292.5,389.01 L293,389.02 L293.5,389.03 L294,389.05 L294.5,389.06 L295,389.07 L295.5,389.08 L296,389.09 L296.5,389.11 L297,389.12 L297.5,389.42 L298,389.71 L298.5,390.01 L299,390.30 L299.5,390.60 L300,390.89 L300.5,390.84 L301,390.57 L301.5,390.29 L302,390.02 L302.5,389.76 L303,389.49 L303.5,389.28 L304,389.29 L304.5,389.30 L305,389.32 L305.5,389.33 L306,389.34 L306.5,389.35 L307,389.36 L307.5,389.38 L308,389.39 L308.5,389.40 L309,389.58 L309.5,389.78 L310,389.98 L310.5,390.18 L311,390.38 L311.5,390.57 L312,390.58 L312.5,390.41 L313,390.21 L313.5,390.01 L314,389.82 L314.5,389.62 L315,389.44 L315.5,389.43 L316,389.41 L316.5,389.40 L317,389.39 L317.5,389.38 L318,389.36 L318.5,389.35 L319,389.34 L319.5,389.33 L320,389.32 L320.5,389.46 L321,389.64 L321.5,389.82 L322,390.01 L322.5,390.19 L323,390.38 L323.5,390.41 L324,390.20 L324.5,389.99 L325,389.79 L325.5,389.58 L326,389.37 L326.5,389.16 L327,389.14 L327.5,389.13 L328,389.12 L328.5,389.11 L329,389.09 L329.5,389.08 L330,389.07 L330.5,389.06 L331,389.05 L331.5,389.03 L332,389.17 L332.5,389.36 L333,389.56 L333.5,389.76 L334,389.96 L334.5,390.16 L335,390.24 L335.5,390.02 L336,389.79 L336.5,389.57 L337,389.35 L337.5,389.12 L338,388.89 L338.5,388.86 L339,388.85 L339.5,388.84 L340,388.82 L340.5,388.81 L341,388.80 L341.5,388.79 L342,388.78 L342.5,388.76 L343,388.75 L343.5,388.93 L344,389.24 L344.5,389.55 L345,389.86 L345.5,390.17 L346,390.49 L346.5,390.67 L347,390.34 L347.5,390.01 L348,389.67 L348.5,389.33 L349,389.00 L349.5,388.66 L350,388.58 L350.5,388.57 L351,388.55 L351.5,388.54 L352,388.53 L352.5,388.52 L353,388.50 L353.5,388.47 L354,388.42 L354.5,388.37 L355,388.45 L355.5,388.65 L356,388.85 L356.5,389.06 L357,389.28 L357.5,389.49 L358,389.66 L358.5,389.37 L359,389.07 L359.5,388.76 L360,388.45 L360.5,388.14 L361,387.82 L361.5,387.69 L362,387.64 L362.5,387.59 L363,387.54 L363.5,387.49 L364,387.44 L364.5,387.39 L365,387.34 L365.5,387.29 L366,387.25 L366.5,387.31 L367,387.55 L367.5,387.79 L368,388.04 L368.5,388.29 L369,388.55 L369.5,388.81 L370,388.47 L370.5,388.13 L371,387.79 L371.5,387.44 L372,387.09 L372.5,386.73 L373,386.56 L373.5,386.51 L374,386.40 L374.5,386.28 L375,386.15 L375.5,386.03 L376,385.91 L376.5,385.78 L377,385.66 L377.5,385.53 L378,385.57 L378.5,385.96 L379,386.35 L379.5,386.74 L380,387.13 L380.5,387.52 L381,387.91 L381.5,387.37 L382,386.74 L382.5,386.10 L383,385.46 L383.5,384.82 L384,384.24 L384.5,383.95 L385,383.92 L385.5,383.89 L386,383.86 L386.5,383.83 L387,383.80 L387.5,383.77 L388,383.74 L388.5,383.71 L389,383.67 L389.5,383.73 L390,384.11 L390.5,384.49 L391,384.87 L391.5,385.25 L392,385.63 L392.5,386.01 L393,385.73 L393.5,385.29 L394,384.85 L394.5,384.41 L395,383.96 L395.5,383.52 L396,383.25 L396.5,383.21 L397,383.18 L397.5,383.15 L398,383.12 L398.5,383.09 L399,383.06 L399.5,383.03 L400,383.00 L400.5,382.93 L401,382.91 L401.5,383.30 L402,383.69 L402.5,384.08 L403,384.47 L403.5,384.86 L404,385.25 L404.5,385.00 L405,384.47 L405.5,383.94 L406,383.40 L406.5,382.87 L407,382.34 L407.5,381.95 L408,381.88 L408.5,381.81 L409,381.74 L409.5,381.67 L410,381.60 L410.5,381.53 L411,381.46 L411.5,381.39 L412,381.32 L412.5,381.25 L413,381.53 L413.5,381.81 L414,382.09 L414.5,382.37 L415,382.65 L415.5,382.93 L416,382.79 L416.5,382.37 L417,381.95 L417.5,381.53 L418,381.11 L418.5,380.69 L419,380.34 L419.5,380.27 L420,380.20 L420.5,380.13 L421,380.06 L421.5,379.99 L422,379.92 L422.5,379.85 L423,379.78 L423.5,379.71 L424,379.64 L424.5,379.99 L425,380.39 L425.5,380.78 L426,381.18 L426.5,381.58 L427,381.97 L427.5,381.90 L428,381.37 L428.5,380.83 L429,380.29 L429.5,379.76 L430,379.22 L430.5,378.73 L431,378.66 L431.5,378.59 L432,378.52 L432.5,378.45 L433,378.38 L433.5,378.31 L434,378.24 L434.5,378.17 L435,378.10 L435.5,378.03 L436,378.24 L436.5,378.51 L437,378.79 L437.5,379.07 L438,379.34 L438.5,379.62 L439,379.62 L439.5,379.20 L440,378.78 L440.5,378.39 L441,377.99 L441.5,377.59 L442,377.19 L442.5,377.14 L443,377.09 L443.5,377.04 L444,376.99 L444.5,376.94 L445,376.89 L445.5,376.84 L446,376.78 L446.5,376.73 L447,376.68 L447.5,376.85 L448,377.11 L448.5,377.37 L449,377.63 L449.5,377.89 L450,378.15 L450.5,378.22 L451,377.86 L451.5,377.50 L452,377.13 L452.5,376.77 L453,376.41 L453.5,376.05 L454,375.96 L454.5,375.91 L455,375.86 L455.5,375.81 L456,375.76 L456.5,375.71 L457,375.66 L457.5,375.61 L458,375.56 L458.5,375.50 L459,375.72 L459.5,376.10 L460,376.49 L460.5,376.87 L461,377.26 L461.5,377.65 L462,377.86 L462.5,377.37 L463,376.88 L463.5,376.39 L464,375.90 L464.5,375.41 L465,374.93 L465.5,374.79 L466,374.74 L466.5,374.68 L467,374.63 L467.5,374.58 L468,374.53 L468.5,374.48 L469,374.43 L469.5,374.38 L470,374.32 L470.5,374.53 L471,374.99 L471.5,375.44 L472,375.90 L472.5,376.36 L473,376.82 L473.5,377.17 L474,376.61 L474.5,376.05 L475,375.49 L475.5,374.93 L476,374.37 L476.5,373.81 L477,373.61 L477.5,373.56 L478,373.50 L478.5,373.45 L479,373.40 L479.5,373.35 L480,373.30 L480.5,373.28 L481,373.26 L481.5,373.23 L482,373.35 L482.5,373.68 L483,374.00 L483.5,374.33 L484,374.65 L484.5,374.98 L485,375.31 L485.5,374.94 L486,374.57 L486.5,374.20 L487,373.83 L487.5,373.46 L488,373.09 L488.5,372.93 L489,372.91 L489.5,372.89 L490,372.86 L490.5,372.84 L491,372.82 L491.5,372.80 L492,372.78 L492.5,372.75 L493,372.73 L493.5,372.81 L494,373.13 L494.5,373.45 L495,373.77 L495.5,374.09 L496,374.41 L496.5,374.73 L497,374.44 L497.5,374.07 L498,373.71 L498.5,373.35 L499,372.98 L499.5,372.62 L500,372.43 L500.5,372.40 L501,372.38 L501.5,372.36 L502,372.34 L502.5,372.32 L503,372.32 L503.5,372.39 L504,372.47 L504.5,372.55 L505,372.71 L505.5,373.17 L506,373.63 L506.5,374.09 L507,374.55 L507.5,375.01 L508,375.47 L508.5,375.32 L509,375.02 L509.5,374.71 L510,374.41 L510.5,374.11 L511,373.80 L511.5,373.65 L512,373.73 L512.5,373.81 L513,373.89 L513.5,373.97 L514,374.04 L514.5,374.12 L515,374.20 L515.5,374.28 L516,374.36 L516.5,374.48 L517,374.95 L517.5,375.43 L518,375.90 L518.5,376.37 L519,376.85 L519.5,377.32 L520,377.24 L520.5,376.93 L521,376.61 L521.5,376.29 L522,375.97 L522.5,375.66 L523,375.46 L523.5,375.54 L524,375.62 L524.5,375.70 L525,375.77 L525.5,375.85 L526,375.88 L526.5,375.82 L527,375.76 L527.5,375.71 L528,375.65 L528.5,376.00 L529,376.35 L529.5,376.71 L530,377.06 L530.5,377.41 L531,377.76 L531.5,377.63 L532,377.16 L532.5,376.69 L533,376.23 L533.5,375.76 L534,375.30 L534.5,374.91 L535,374.86 L535.5,374.80 L536,374.74 L536.5,374.69 L537,374.63 L537.5,374.57 L538,374.51 L538.5,374.46 L539,374.40 L539.5,374.34 L540,374.55 L540.5,374.78 L541,375.02 L541.5,375.25 L542,375.48 L542.5,375.71 L543,375.66 L543.5,375.31 L544,374.96 L544.5,374.62 L545,374.27 L545.5,373.92 L546,373.61 L546.5,373.55 L547,373.49 L547.5,373.44 L548,373.38 L548.5,373.32 L549,373.32 L549.5,373.35 L550,373.38 L550.5,373.41 L551,373.45 L551.5,373.86 L552,374.38 L552.5,374.90 L553,375.41 L553.5,375.93 L554,376.44 L554.5,376.57 L555,376.12 L555.5,375.67 L556,375.22 L556.5,374.76 L557,374.31 L557.5,373.86 L558,373.89 L558.5,373.92 L559,373.95 L559.5,373.99 L560,374.02 L560.5,374.05 L561,374.08 L561.5,374.11 L562,374.14 L562.5,374.18 L563,374.51 L563.5,374.97 L564,375.43 L564.5,375.89 L565,376.35 L565.5,376.81 L566,377.02 L566.5,376.62 L567,376.22 L567.5,375.82 L568,375.43 L568.5,375.03 L569,374.63 L569.5,374.62 L570,374.65 L570.5,374.68 L571,374.71 L571.5,374.75 L572,374.78 L572.5,374.81 L573,374.84 L573.5,374.87 L574,374.91 L574.5,375.21 L575,375.70 L575.5,376.19 L576,376.67 L576.5,377.16 L577,377.65 L577.5,377.95 L578,377.53 L578.5,377.11 L579,376.68 L579.5,376.26 L580,375.83 L580.5,375.41 L581,375.35 L581.5,375.38 L582,375.43 L582.5,375.50 L583,375.58 L583.5,375.65 L584,375.73 L584.5,375.80 L585,375.88 L585.5,375.95 L586,376.19 L586.5,376.60 L587,377.00 L587.5,377.41 L588,377.81 L588.5,378.22 L589,378.55 L589.5,378.30 L590,378.04 L590.5,377.79 L591,377.53 L591.5,377.28 L592,377.02 L592.5,377.00 L593,377.08 L593.5,377.15 L594,377.23 L594.5,377.30 L595,377.37 L595.5,377.45 L596,377.52 L596.5,377.60 L597,377.67 L597.5,377.93 L598,378.46 L598.5,378.99 L599,379.52 L599.5,380.04 L600,380.57 L600.5,381.10 L601,380.72 L601.5,380.34 L602,379.96 L602.5,379.59 L603,379.21 L603.5,378.83 L604,378.72 L604.5,378.80 L605,378.87 L605.5,378.95 L606,379.02 L606.5,379.10 L607,379.17 L607.5,379.18 L608,379.16 L608.5,379.13 L609,379.20 L609.5,379.46 L610,379.73 L610.5,380.00 L611,380.27 L611.5,380.54 L612,380.81 L612.5,380.55 L613,380.23 L613.5,379.91 L614,379.59 L614.5,379.27 L615,378.95 L615.5,378.78 L616,378.75 L616.5,378.73 L617,378.70 L617.5,378.67 L618,378.65 L618.5,378.62 L619,378.60 L619.5,378.57 L620,378.55 L620.5,378.61 L621,379.05 L621.5,379.49 L622,379.93 L622.5,380.37 L623,380.81 L623.5,381.25 L624,380.94 L624.5,380.45 L625,379.96 L625.5,379.47 L626,378.98 L626.5,378.49 L627,378.19 L627.5,378.17 L628,378.14 L628.5,378.11 L629,378.09 L629.5,378.06 L630,378.04 L630.5,378.01 L631,377.99 L631.5,377.96 L632,377.97 L632.5,378.29 L633,378.65 L633.5,379.04 L634,379.43 L634.5,379.83 L635,380.22 L635.5,380.13 L636,379.84 L636.5,379.54 L637,379.25 L637.5,378.96 L638,378.66 L638.5,378.47 L639,378.52 L639.5,378.57 L640,378.62 L640.5,378.67 L641,378.72 L641.5,378.77 L642,378.82 L642.5,378.87 L643,378.92 L643.5,378.97 L644,379.47 L644.5,379.97 L645,380.47 L645.5,380.97 L646,381.47 L646.5,381.97 L647,381.92 L647.5,381.52 L648,381.12 L648.5,380.72 L649,380.32 L649.5,379.92 L650,379.61 L650.5,379.66 L651,379.71 L651.5,379.76 L652,379.81 L652.5,379.86 L653,379.91 L653.5,379.96 L654,380.00 L654.5,380.05 L655,380.10 L655.5,380.49 L656,380.91 L656.5,381.33 L657,381.76 L657.5,382.18 L658,382.60 L658.5,382.60 L659,382.23 L659.5,381.86 L660,381.48 L660.5,381.11 L661,380.74 L661.5,380.40 L662,380.40 L662.5,380.40 L663,380.40 L663.5,380.40 L664,380.40 L664.5,380.40 L665,380.40 L665.5,380.40 L666,380.40 L666.5,380.40 L667,380.72 L667.5,381.12 L668,381.52 L668.5,381.92 L669,382.33 L669.5,382.73 L670,382.81 L670.5,382.41 L671,382.01 L671.5,381.60 L672,381.20 L672.5,380.80 L673,380.40 L673.5,380.40 L674,380.40 L674.5,380.40 L675,380.40 L675.5,380.40 L676,380.40 L676.5,380.40 L677,380.40 L677.5,380.40 L678,380.40 L678.5,380.75 L679,381.26 L679.5,381.77 L680,382.28 L680.5,382.78 L681,383.29 L681.5,383.49 L682,382.98 L682.5,382.48 L683,381.97 L683.5,381.46 L684,380.96 L684.5,380.46 L685,380.42 L685.5,380.43 L686,380.44 L686.5,380.45 L687,380.45 L687.5,380.46 L688,380.47 L688.5,380.48 L689,380.49 L689.5,380.49 L690,380.79 L690.5,381.27 L691,381.75 L691.5,382.23 L692,382.72 L692.5,383.20 L693,383.49 L693.5,383.02 L694,382.56 L694.5,382.09 L695,381.62 L695.5,381.16 L696,380.69 L696.5,380.60 L697,380.61 L697.5,380.62 L698,380.63 L698.5,380.63 L699,380.64 L699.5,380.65 L700,380.66 L700.5,380.67 L701,380.67 L701.5,380.83 L702,381.14 L702.5,381.44 L703,381.75 L703.5,382.05 L704,382.36 L704.5,382.60 L705,382.31 L705.5,382.02 L706,381.73 L706.5,381.44 L707,381.15 L707.5,380.87 L708,380.78 L708.5,380.79 L709,380.80 L709.5,380.81 L710,380.82 L710.5,380.82 L711,380.83 L711.5,380.84 L712,380.85 L712.5,380.86 L713,381.01 L713.5,381.39 L714,381.78 L714.5,382.16 L715,382.54 L715.5,382.92 L716,383.30 L716.5,382.94 L717,382.57 L717.5,382.20 L718,381.84 L718.5,381.47 L719,381.11 L719.5,380.97 L720,380.97 L720.5,380.98 L721,380.99 L721.5,381.00 L722,380.99 L722.5,380.98 L723,380.96 L723.5,380.95 L724,380.93 L724.5,381.01 L725,381.32 L725.5,381.63 L726,381.93 L726.5,382.24 L727,382.55 L727.5,382.85 L728,382.58 L728.5,382.24 L729,381.91 L729.5,381.57 L730,381.23 L730.5,380.90 L731,380.72 L731.5,380.70 L732,380.69 L732.5,380.67 L733,380.66 L733.5,380.64 L734,380.63 L734.5,380.61 L735,380.60 L735.5,380.58 L736,380.64 L736.5,380.96 L737,381.29 L737.5,381.61 L738,381.94 L738.5,382.26 L739,382.59 L739.5,382.37 L740,382.01 L740.5,381.66 L741,381.30 L741.5,380.95 L742,380.59 L742.5,380.37 L743,380.36 L743.5,380.34 L744,380.33 L744.5,380.31 L745,380.30 L745.5,380.28 L746,380.27 L746.5,380.25 L747,380.24 L747.5,380.26 L748,380.62 L748.5,380.98 L749,381.34 L749.5,381.70 L750,382.06 L750.5,382.42 L751,382.25 L751.5,381.86 L752,381.47 L752.5,381.08 L753,380.69 L753.5,380.30 L754,380.02 L754.5,380.01 L755,380.00 L755.5,379.99 L756,379.98 L756.5,379.98 L757,379.97 L757.5,379.96 L758,379.96 L758.5,379.95 L759,379.95 L759.5,380.31 L760,380.67 L760.5,381.03 L761,381.40 L761.5,381.76 L762,382.12 L762.5,382.04 L763,381.67 L763.5,381.29 L764,380.91 L764.5,380.54 L765,380.16 L765.5,379.86 L766,379.85 L766.5,379.85 L767,379.84 L767.5,379.84 L768,379.83 L768.5,379.82 L769,379.82 L769.5,379.81 L770,379.80 L770.5,379.82 L771,380.15 L771.5,380.52 L772,380.89 L772.5,381.26 L773,381.63 L773.5,381.99 L774,382.02 L774.5,381.70 L775,381.39 L775.5,381.07 L776,380.76 L776.5,380.44 L777,380.16 L777.5,380.18 L778,380.21 L778.5,380.24 L779,380.26 L779.5,380.29 L780,380.32 L780.5,380.34 L781,380.37 L781.5,380.39 L782,380.42 L782.5,380.73 L783,381.11 L783.5,381.49 L784,381.88 L784.5,382.26 L785,382.64 L785.5,382.69 L786,382.14 L786.5,381.58 L787,381.03 L787.5,380.47 L788,379.92 L788.5,379.36 L789,379.16 L789.5,378.96 L790,378.76 L790.5,378.56 L791,378.36 L791.5,378.16 L792,377.96 L792.5,377.76 L793,377.56 L793.5,377.36 L794,377.30 L794.5,377.24 L795,377.17 L795.5,377.08 L796,376.97 L796.5,376.84 L797,376.60 L797.5,376.15 L798,375.72 L798.5,375.31 L799,374.92 L799.5,374.55 L800,374.20 L800.5,373.94 L801,373.69 L801.5,373.44 L802,373.20 L802.5,372.98 L803,372.85 L803.5,372.73 L804,372.60 L804.5,372.48 L805,372.35 L805.5,371.96 L806,371.74 L806.5,371.53 L807,371.34 L807.5,371.17 L808,371.05 L808.5,370.96 L809,370.90 L809.5,370.88 L810,370.88 L810.5,370.90 L811,370.93 L811.5,370.94 L812,370.94 L812.5,370.92 L813,370.86 L813.5,370.77 L814,370.64 L814.5,370.48 L815,370.29 L815.5,370.08 L816,369.85 L816.5,369.66 L817,369.47 L817.5,369.30 L818,369.15 L818.5,369.04 L819,368.95 L819.5,368.88 L820,368.84 L820.5,368.81 L821,368.79 L821.5,368.76 L822,368.72 L822.5,368.65 L823,368.56 L823.5,368.43 L824,368.28 L824.5,368.09 L825,367.88 L825.5,367.66 L826,367.43 L826.5,367.21 L827,367.00 L827.5,366.82 L828,366.68 L828.5,366.57 L829,366.49 L829.5,366.46 L830,366.46 L830.5,366.48 L831,366.52 L831.5,366.60 L832,366.72 L832.5,366.81 L833,366.88 L833.5,366.92 L834,366.93 L834.5,366.90 L835,366.85 L835.5,366.78 L836,366.69 L836.5,366.60 L837,366.51 L837.5,366.44 L838,366.39 L838.5,366.36 L839,366.37 L839.5,366.40 L840,366.45 L840.5,366.52 L841,366.60 L841.5,366.67 L842,366.73 L842.5,366.77 L843,366.79 L843.5,366.76 L844,366.70 L844.5,366.61 L845,366.49 L845.5,366.36 L846,366.22 L846.5,366.07 L847,365.93 L847.5,365.81 L848,365.71 L848.5,365.65 L849,365.62 L849.5,365.63 L850,365.68 L850.5,365.75 L851,365.84 L851.5,365.95 L852,366.06 L852.5,366.15 L853,366.23 L853.5,366.29 L854,366.31 L854.5,366.31 L855,366.28 L855.5,366.23 L856,366.17 L856.5,366.10 L857,366.03 L857.5,365.98 L858,365.95 L858.5,365.95 L859,365.98 L859.5,366.04 L860,366.13 L860.5,366.24 L861,366.36 L861.5,366.49 L862,366.61 L862.5,366.69 L863,366.75 L863.5,366.78 L864,366.77 L864.5,366.72 L865,366.64 L865.5,366.52 L866,366.38 L866.5,366.23 L867,366.08 L867.5,365.93 L868,365.80 L868.5,365.69 L869,365.62 L869.5,365.58 L870,365.57 L870.5,365.59 L871,365.64 L871.5,365.70 L872,365.76 L872.5,365.81 L873,365.86 L873.5,365.88 L874,365.87 L874.5,365.84 L875,365.78 L875.5,365.70 L876,365.60 L876.5,365.49 L877,365.39 L877.5,365.30 L878,365.23 L878.5,365.19 L879,365.18 L879.5,365.21 L880,365.28 L880.5,365.37 L881,365.49 L881.5,365.61 L882,365.75 L882.5,365.87 L883,365.97 L883.5,366.05 L884,366.09 L884.5,366.09 L885,366.06 L885.5,365.99 L886,365.89 L886.5,365.77 L887,365.65 L887.5,365.54 L888,365.45 L888.5,365.38 L889,365.34 L889.5,365.33 L890,365.34 L890.5,365.39 L891,365.45 L891.5,365.53 L892,365.61 L892.5,365.69 L893,365.76 L893.5,365.80 L894,365.82 L894.5,365.80 L895,365.76 L895.5,365.69 L896,365.60 L896.5,365.50 L897,365.39 L897.5,365.29 L898,365.21 L898.5,365.16 L899,365.14 L899.5,365.16 L900,365.22 L900.5,365.31 L901,365.43 L901.5,365.58 L902,365.73 L902.5,365.89 L903,366.04 L903.5,366.17 L904,366.27 L904.5,366.34 L905,366.38 L905.5,366.38 L906,366.36 L906.5,366.31 L907,366.25 L907.5,366.18 L908,366.12 L908.5,366.07 L909,366.05 L909.5,366.05 L910,366.08 L910.5,366.13 L911,366.21 L911.5,366.30 L912,366.41 L912.5,366.50 L913,366.58 L913.5,366.62 L914,366.64 L914.5,366.63 L915,366.58 L915.5,366.50 L916,366.39 L916.5,366.26 L917,366.11 L917.5,365.97 L918,365.84 L918.5,365.72 L919,365.64 L919.5,365.59 L920,365.58 L920.5,365.60 L921,365.66 L921.5,365.75 L922,365.86 L922.5,365.98 L923,366.10 L923.5,366.20 L924,366.29 L924.5,366.35 L925,366.38 L925.5,366.38 L926,366.36 L926.5,366.31 L927,366.25 L927.5,366.18 L928,366.12 L928.5,366.07 L929,366.04 L929.5,366.04 L930,366.06 L930.5,366.12 L931,366.20 L931.5,366.30 L932,366.42 L932.5,366.53 L933,366.64 L933.5,366.73 L934,366.79 L934.5,366.81 L935,366.80 L935.5,366.76 L936,366.67 L936.5,366.56 L937,366.43 L937.5,366.28 L938,366.14 L938.5,365.96 L939,365.79 L939.5,365.65 L940,365.55 L940.5,365.47 L941,365.44 L941.5,365.43 L942,365.44 L942.5,365.47 L943,365.50 L943.5,365.53 L944,365.54 L944.5,365.53 L945,365.50 L945.5,365.43 L946,365.34 L946.5,365.23 L947,365.10 L947.5,364.97 L948,364.84 L948.5,364.72 L949,364.62 L949.5,364.55 L950,364.52 L950.5,364.52 L951,364.56 L951.5,364.63 L952,364.72 L952.5,364.81 L953,364.91 L953.5,364.99 L954,365.05 L954.5,365.09 L955,365.08 L955.5,365.04 L956,364.96 L956.5,364.85 L957,364.71 L957.5,364.55 L958,364.38 L958.5,364.21 L959,364.05 L959.5,363.92 L960,363.81 L960.5,363.67 L961,363.55 L961.5,363.47 L962,363.41 L962.5,363.36 L963,363.32 L963.5,363.27 L964,363.21 L964.5,363.13 L965,363.03 L965.5,362.89 L966,362.73 L966.5,362.54 L967,362.33 L967.5,362.11 L968,361.89 L968.5,361.68 L969,361.49 L969.5,361.33 L970,361.20 L970.5,361.11 L971,361.05 L971.5,361.03 L972,361.04 L972.5,361.06 L973,361.10 L973.5,361.14 L974,361.16 L974.5,361.16 L975,361.13 L975.5,361.07 L976,360.98 L976.5,360.86 L977,360.71 L977.5,360.53 L978,360.34 L978.5,360.15 L979,359.96 L979.5,359.79 L980,359.64 L980.5,359.52 L981,359.42 L981.5,359.35 L982,359.31 L982.5,359.28 L983,359.25 L983.5,359.23 L984,359.19 L984.5,359.12 L985,359.04 L985.5,358.91 L986,358.76 L986.5,358.58 L987,358.37 L987.5,358.14 L988,357.90 L988.5,357.66 L989,357.44 L989.5,357.24 L990,357.07 L990.5,356.94 L991,356.84 L991.5,356.78 L992,356.76 L992.5,356.76 L993,356.76 L993.5,356.76 L994,356.77 L994.5,356.76 L995,356.73 L995.5,356.67 L996,356.58 L996.5,356.46 L997,356.31 L997.5,356.13 L998,355.95 L998.5,355.75 L999,355.56 L999.5,355.39 L1000,355.23 L1000.5,355.10 L1001,355.00 L1001.5,354.92 L1002,354.87 L1002.5,354.84 L1003,354.82 L1003.5,354.80 L1004,354.77 L1004.5,354.72 L1005,354.64 L1005.5,354.53 L1006,354.38 L1006.5,354.20 L1007,353.98 L1007.5,353.73 L1008,353.47 L1008.5,353.20 L1009,352.93 L1009.5,352.68 L1010,352.51 L1010.5,352.37 L1011,352.26 L1011.5,352.19 L1012,352.15 L1012.5,352.15 L1013,352.16 L1013.5,352.19 L1014,352.23 L1014.5,352.25 L1015,352.27 L1015.5,352.26 L1016,352.22 L1016.5,352.15 L1017,352.06 L1017.5,351.94 L1018,351.81 L1018.5,351.68 L1019,351.54 L1019.5,351.42 L1020,351.32 L1020.5,351.25 L1021,351.20 L1021.5,351.19 L1022,351.21 L1022.5,351.26 L1023,351.32 L1023.5,351.39 L1024,351.45 L1024.5,351.50 L1025,351.53 L1025.5,351.53 L1026,351.49 L1026.5,351.43 L1027,351.36 L1027.5,351.26 L1028,351.13 L1028.5,350.99 L1029,350.83 L1029.5,350.69 L1030,350.55 L1030.5,350.44 L1031,350.36 L1031.5,350.31 L1032,350.29 L1032.5,350.30 L1033,350.33 L1033.5,350.38 L1034,350.44 L1034.5,350.49 L1035,350.53 L1035.5,350.55 L1036,350.54 L1036.5,350.51 L1037,350.45 L1037.5,350.36 L1038,350.26 L1038.5,350.14 L1039,350.03 L1039.5,349.93 L1040,349.84 L1040.5,349.79 L1041,349.76 L1041.5,349.78 L1042,349.83 L1042.5,349.91 L1043,350.02 L1043.5,350.14 L1044,350.27 L1044.5,350.40 L1045,350.51 L1045.5,350.60 L1046,350.65 L1046.5,350.67 L1047,350.68 L1047.5,350.67 L1048,350.64 L1048.5,350.57 L1049,350.50 L1049.5,350.42 L1050,350.35 L1050.5,350.30 L1051,350.27 L1051.5,350.26 L1052,350.29 L1052.5,350.34 L1053,350.41 L1053.5,350.50 L1054,350.60 L1054.5,350.69 L1055,350.77 L1055.5,350.84 L1056,350.87 L1056.5,350.88 L1057,350.85 L1057.5,350.79 L1058,350.71 L1058.5,350.62 L1059,350.52 L1059.5,350.42 L1060,350.34 L1060.5,350.28 L1061,350.25 L1061.5,350.26 L1062,350.31 L1062.5,350.40 L1063,350.52 L1063.5,350.66 L1064,350.82 L1064.5,350.99 L1065,351.15 L1065.5,351.29 L1066,351.42 L1066.5,351.51 L1067,351.57 L1067.5,351.59 L1068,351.59 L1068.5,351.56 L1069,351.55 L1069.5,351.56 L1070,351.57 L1070.5,351.59 L1071,351.64 L1071.5,351.71 L1072,351.80 L1072.5,351.93 L1073,352.07 L1073.5,352.24 L1074,352.41 L1074.5,352.59 L1075,352.75 L1075.5,352.89 L1076,353.01 L1076.5,353.09 L1077,353.14 L1077.5,353.15 L1078,353.13 L1078.5,353.09 L1079,353.03 L1079.5,352.97 L1080,352.91 L1080.5,352.87 L1081,352.85 L1081.5,352.87 L1082,352.92 L1082.5,353.01 L1083,353.14 L1083.5,353.30 L1084,353.47 L1084.5,353.67 L1085,353.86 L1085.5,354.05 L1086,354.22 L1086.5,354.36 L1087,354.48 L1087.5,354.57 L1088,354.63 L1088.5,354.67 L1089,354.69 L1089.5,354.76 L1090,354.85 L1090.5,354.95 L1091,355.07 L1091.5,355.22 L1092,355.39 L1092.5,355.60 L1093,355.84 L1093.5,356.09 L1094,356.37 L1094.5,356.64 L1095,356.92 L1095.5,357.17 L1096,357.40 L1096.5,357.60 L1097,357.77 L1097.5,357.89 L1098,357.98 L1098.5,358.03 L1099,358.06 L1099.5,358.08 L1100,358.09 L1100.5,358.11 L1101,358.14 L1101.5,358.20 L1102,358.29 L1102.5,358.42 L1103,358.58 L1103.5,358.76 L1104,358.98 L1104.5,359.20 L1105,359.44 L1105.5,359.67 L1106,359.89 L1106.5,360.09 L1107,360.26 L1107.5,360.40 L1108,360.52 L1108.5,360.62 L1109,360.69 L1109.5,360.76 L1110,360.83 L1110.5,360.91 L1111,361.01 L1111.5,361.13 L1112,361.29 L1112.5,361.48 L1113,361.71 L1113.5,361.96 L1114,362.24 L1114.5,362.53 L1115,362.83 L1115.5,363.12 L1116,363.39 L1116.5,363.64 L1117,363.85 L1117.5,364.02 L1118,364.16 L1118.5,364.26 L1119,364.33 L1119.5,364.37 L1120,364.41 L1120.5,364.44 L1121,364.49 L1121.5,364.55 L1122,364.63 L1122.5,364.75 L1123,364.89 L1123.5,365.06 L1124,365.25 L1124.5,365.46 L1125,365.68 L1125.5,365.90 L1126,366.10 L1126.5,366.29 L1127,366.45 L1127.5,366.58 L1128,366.68 L1128.5,366.69 L1129,366.67 L1129.5,366.63 L1130,366.59 L1130.5,366.56 L1131,366.54 L1131.5,366.55 L1132,366.59 L1132.5,366.67 L1133,366.78 L1133.5,366.93 L1134,367.12 L1134.5,367.32 L1135,367.54 L1135.5,367.76 L1136,367.98 L1136.5,368.18 L1137,368.35 L1137.5,368.48 L1138,368.59 L1138.5,368.66 L1139,368.69 L1139.5,368.71 L1140,368.71 L1140.5,368.70 L1141,368.70 L1141.5,368.70 L1142,368.73 L1142.5,368.79 L1143,368.87 L1143.5,368.98 L1144.2,369.10" fill="none" stroke="#3c3e60" stroke-width="1.3" stroke-opacity="0.85"/>
<line x1="30" y1="394.5" x2="1144.2" y2="394.5" stroke="#c4c4d6" stroke-width="1.1"/>
<line x1="0" y1="395.6" x2="1174" y2="395.6" stroke="#8a8a8a" stroke-width="0.9"/>
<path d="M31,315.2 L51,314.6 L61,312.8 L71,309 L79,305 L85,299 L91,283 L94,290 L97,285 L102,282 L106,280 L109,284 L114,259 L117,256 L121,256 L125,255 L128.6,252.1 L131.2,258.4 L133.9,257.9 L136.6,262.8 L141,265 L143.7,266.4 L147.7,264.1 L151.7,267.3 L155.3,269.9 L160.6,264.6 L166,268.6 L172.2,266.4 L177.5,269.5 L181.1,266.4 L185,268.6 L190.4,272 L193.7,271.8 L204,277.2 L212.4,278.9 L222.6,280.1 L229.4,279.3 L237.9,280.1 L240,280.7 L245.3,283.4 L252.5,283.4 L256.5,286 L263.2,285.6 L269.4,287.4 L278.3,287.4 L282.7,287.4 L289.9,289.1 L297.9,288.7 L304.1,289.6 L311.2,287.8 L314.8,289.6 L321.9,286.9 L329,286 L334.4,285.6 L338,285.1 L345,281.5 L350.9,280.2 L356.7,272.7 L363.4,268.5 L370.1,255.1 L373.4,252.6 L376,254.3 L380.1,241.8 L384.3,240.1 L387.7,241.8 L390.2,234.2 L393.5,230 L395,227.3 L397.3,229.7 L400.5,221.1 L404.4,223.4 L405.9,221.9 L409,228.1 L412.1,216.4 L416,215.6 L419.2,210.2 L422.3,210.2 L424.6,204.7 L428.5,197.7 L431.6,207.9 L436.3,193 L440.2,192.3 L443.3,201.6 L447.2,182.1 L450.3,179.8 L454,186.4 L458,167.1 L463.4,171.8 L466,177.8 L472,159.1 L476.1,174.4 L481.4,161.1 L484.7,163.1 L488.8,171.1 L492.8,161.7 L496.8,157 L500.1,167.7 L502.8,153 L506.1,155 L510,165.7 L511.1,169.5 L515.2,165.5 L520.5,189 L524.5,184.2 L531.2,190.9 L537.9,181.5 L543.2,189.5 L547.2,198.9 L550,198 L553,202 L557.6,219.7 L561,211 L564,214 L569,226 L573.6,225 L580,236 L585,233 L592,246 L596,242.5 L604,252 L610,253 L616,258 L619,254 L627,266 L633,261 L638,266 L642,262 L649,268.8 L653,265 L661,270 L664.4,265.8 L673,270 L677,266 L683.8,270.8 L689.8,265.4 L695.8,270.8 L699.8,266.8 L703.8,267.4 L707.8,272 L710.5,264.8 L713.2,265.4 L715.9,268.8 L720.5,273.4 L725.2,270 L729.2,270 L734.6,264 L738.6,268.8 L742.6,272 L745.3,266 L752.6,272 L757.3,264.8 L762,262.8 L764.7,267.4 L772,264.8 L777.4,258 L783.4,236 L784.7,238.7 L789.1,242.3 L791.8,230.7 L794,221.8 L798.5,223.6 L800,214 L802.2,206.2 L805.6,198.4 L808.4,200.6 L811.7,202.9 L813.4,191.7 L818.4,179.5 L821.7,189.5 L827,176 L834,186.7 L838.4,176.7 L845.1,186.2 L848.5,183.9 L854,186.2 L857.8,193.9 L862.2,186.1 L865,188.4 L867.8,196.2 L871.7,190.6 L876.2,191.7 L880.1,199.5 L885.1,195 L889.5,202.8 L895.7,201.7 L897.9,202.8 L902.3,213.4 L905,209 L909.5,210 L913.9,218.4 L918.4,212.9 L921.7,214 L925.6,221.2 L932.3,213.4 L936.7,219 L944,205.6 L949,211.2 L951.8,201.7 L956.2,194.5 L960.1,198.4 L964,183.3 L968.4,176.2 L972.8,179.5 L977.8,157.8 L982.3,158.4 L984,162.8 L986.7,146 L992.1,129.1 L995.4,132.4 L1000.1,113.1 L1002.8,111.1 L1003.6,121 L1006.1,112.4 L1007.4,118.4 L1010.1,98.4 L1014.1,94.4 L1017.9,104.6 L1020.8,97.4 L1024.4,90.9 L1025.9,102.5 L1028.8,101.7 L1031.2,109.7 L1033.1,95.2 L1038.2,106.8 L1041.8,117 L1044.7,113.3 L1049.1,114.8 L1053.4,133.6 L1057,127.8 L1061.4,134.3 L1064.3,135.1 L1067.9,134.3 L1070.1,137.2 L1075.3,145.7 L1078,151.9 L1080.7,149.2 L1083.3,152.8 L1087.8,162.6 L1090.5,160.8 L1093.1,166.1 L1095.8,165.2 L1099.4,175.9 L1102,176.8 L1104.7,180.4 L1108.3,189.3 L1111.8,200.8 L1115.4,203.5 L1118.9,215.6 L1121.1,226.7 L1124.4,231.1 L1127.8,224.4 L1131.1,228.9 L1135.6,216.7 L1137.8,195.6 L1140,173.3 L1142.2,157.8 L1144.6,146.2" fill="none" stroke="url(#ig)" stroke-width="2.8" stroke-linejoin="round" stroke-linecap="round"/>
<g fill="#9a2226" stroke="#7a1a20" stroke-width="0.8">
<circle cx="128.6" cy="252.1" r="4.2"/>
<circle cx="502.6" cy="153.4" r="4.2"/>
<circle cx="827" cy="176" r="4.2"/>
<circle cx="1024.4" cy="90.9" r="4.2"/>
<circle cx="1144.6" cy="146.2" r="4.2"/>
</g>
<g font-size="16" font-weight="bold" fill="#1f2430">
<text x="104.07" y="242.4" textLength="48.61" lengthAdjust="spacingAndGlyphs">11 656</text>
<text x="478.14" y="143.5" textLength="49.11" lengthAdjust="spacingAndGlyphs">29 935</text>
<text x="802.29" y="165.6" textLength="48.73" lengthAdjust="spacingAndGlyphs">25 766</text>
<text x="1000.37" y="82.6" textLength="49.88" lengthAdjust="spacingAndGlyphs">41 335</text>
<text x="1120.23" y="136.6" textLength="48.83" lengthAdjust="spacingAndGlyphs">31 252</text>
<text x="1027.76" y="345" textLength="39.19" lengthAdjust="spacingAndGlyphs">1 254</text>
<text x="1131.97" y="364" textLength="26.60" lengthAdjust="spacingAndGlyphs">688</text>
</g>
<g font-size="15" fill="#333">
<text x="29.60" y="415.3" textLength="32.40" lengthAdjust="spacingAndGlyphs">МАР</text>
<text x="61.25" y="415.3" textLength="31.50" lengthAdjust="spacingAndGlyphs">АПР</text>
<text x="111.22" y="415.3" textLength="35.39" lengthAdjust="spacingAndGlyphs">МАЙ</text>
<text x="162.67" y="415.3" textLength="36.42" lengthAdjust="spacingAndGlyphs">ИЮН</text>
<text x="211.47" y="415.3" textLength="36.37" lengthAdjust="spacingAndGlyphs">ИЮЛ</text>
<text x="263.65" y="415.3" textLength="27.36" lengthAdjust="spacingAndGlyphs">АВГ</text>
<text x="313.79" y="415.3" textLength="30.34" lengthAdjust="spacingAndGlyphs">СЕН</text>
<text x="362.91" y="415.3" textLength="30.27" lengthAdjust="spacingAndGlyphs">ОКТ</text>
<text x="414.76" y="415.3" textLength="31.68" lengthAdjust="spacingAndGlyphs">НОЯ</text>
<text x="463.82" y="415.3" textLength="30.18" lengthAdjust="spacingAndGlyphs">ДЕК</text>
<text x="515.81" y="415.3" textLength="31.71" lengthAdjust="spacingAndGlyphs">ЯНВ</text>
<text x="566.10" y="415.3" textLength="31.23" lengthAdjust="spacingAndGlyphs">ФЕВ</text>
<text x="611.87" y="415.3" textLength="33.93" lengthAdjust="spacingAndGlyphs">МАР</text>
<text x="663.65" y="415.3" textLength="30.26" lengthAdjust="spacingAndGlyphs">АПР</text>
<text x="712.46" y="415.3" textLength="35.54" lengthAdjust="spacingAndGlyphs">МАЙ</text>
<text x="764.15" y="415.3" textLength="36.95" lengthAdjust="spacingAndGlyphs">ИЮН</text>
<text x="813.84" y="415.3" textLength="35.47" lengthAdjust="spacingAndGlyphs">ИЮЛ</text>
<text x="864.54" y="415.3" textLength="28.27" lengthAdjust="spacingAndGlyphs">АВГ</text>
<text x="915.66" y="415.3" textLength="29.54" lengthAdjust="spacingAndGlyphs">СЕН</text>
<text x="964.95" y="415.3" textLength="29.68" lengthAdjust="spacingAndGlyphs">ОКТ</text>
<text x="1016.54" y="415.3" textLength="31.44" lengthAdjust="spacingAndGlyphs">НОЯ</text>
<text x="1065.58" y="415.3" textLength="29.47" lengthAdjust="spacingAndGlyphs">ДЕК</text>
<text x="1117.78" y="415.3" textLength="31.06" lengthAdjust="spacingAndGlyphs">ЯНВ</text>
<text x="30.00" y="428.9" textLength="31.88" lengthAdjust="spacingAndGlyphs">2020</text>
<text x="514.59" y="428.9" textLength="33.28" lengthAdjust="spacingAndGlyphs">2021</text>
<text x="1115.99" y="428.9" textLength="34.05" lengthAdjust="spacingAndGlyphs">2022</text>
</g>
</svg>
</body></html>
